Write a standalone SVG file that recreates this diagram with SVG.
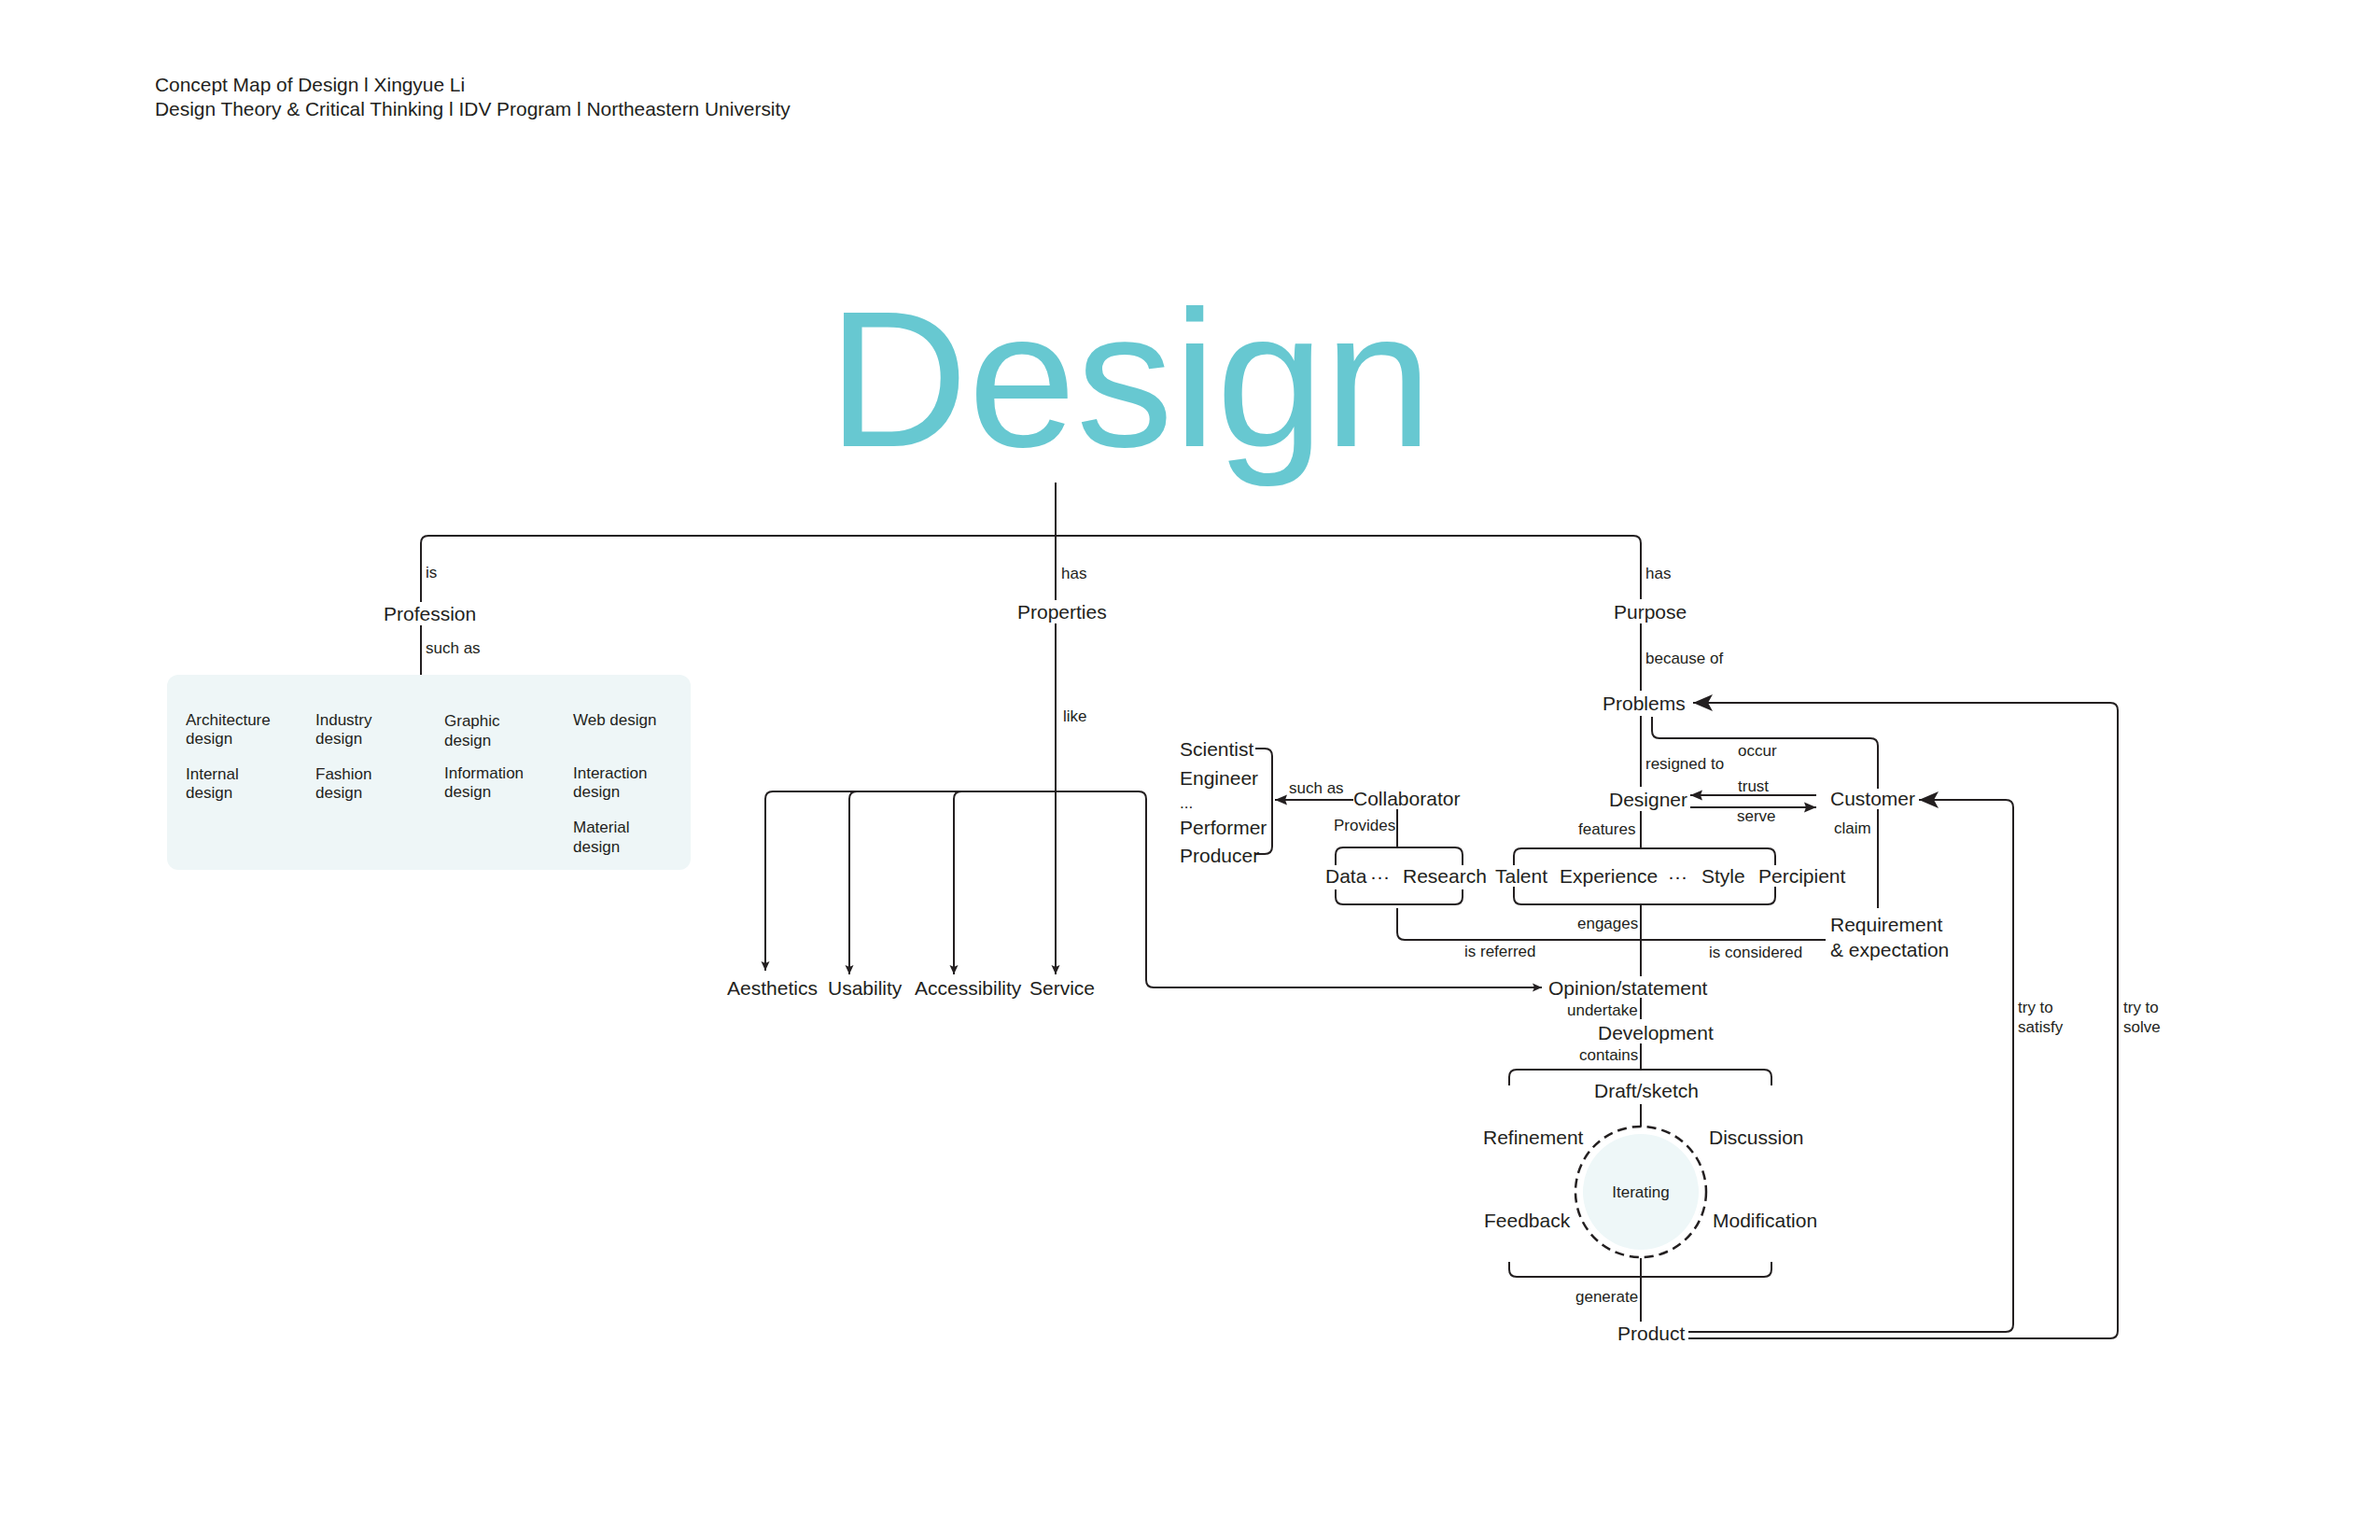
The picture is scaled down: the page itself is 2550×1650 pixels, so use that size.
<svg xmlns="http://www.w3.org/2000/svg" width="2550" height="1650" viewBox="0 0 2550 1650">
<defs>
<style>
text{font-family:"Liberation Sans",Arial,Helvetica,sans-serif;fill:#231F20}
.hd{font-size:20.9px}
.n{font-size:21px}
.e{font-size:17px}
.b{font-size:17px}
.ln{fill:none;stroke:#231F20;stroke-width:2}
.title{font-size:208px;fill:#67C8D1}
</style>
<marker id="big" viewBox="0 0 22 20" refX="21" refY="10" markerWidth="22" markerHeight="20" orient="auto" markerUnits="userSpaceOnUse"><path d="M21,10 L0,1 L5,10 L0,19 Z" fill="#231F20"/></marker>
<marker id="mid" viewBox="0 0 14 12" refX="13" refY="6" markerWidth="14" markerHeight="12" orient="auto" markerUnits="userSpaceOnUse"><path d="M13,6 L0,0.5 L2,6 L0,11.5 Z" fill="#231F20"/></marker>
<marker id="sm" viewBox="0 0 11 10" refX="10" refY="5" markerWidth="11" markerHeight="10" orient="auto" markerUnits="userSpaceOnUse"><path d="M10,5 L0,0.5 L2,5 L0,9.5 Z" fill="#231F20"/></marker>
</defs>
<rect width="2550" height="1650" fill="#FFFFFF"/>

<g id="header">
<text class="hd" x="166" y="98">Concept Map of Design l Xingyue Li</text>
<text class="hd" x="166" y="124">Design Theory &amp; Critical Thinking l IDV Program l Northeastern University</text>
</g>

<g id="connectors">
<path class="ln" d="M451,645 V582 Q451,574 459,574 H1750 Q1758,574 1758,582 V642"/>
<path class="ln" d="M1131,517 V643"/>
<path class="ln" d="M451,670 V723"/>
<path class="ln" d="M1131,668 V1044" marker-end="url(#sm)"/>
<path class="ln" d="M1131,848 H828 Q820,848 820,856 V1040" marker-end="url(#sm)"/>
<path class="ln" d="M918,848 Q910,848 910,856 V1044" marker-end="url(#sm)"/>
<path class="ln" d="M1030,848 Q1022,848 1022,856 V1044" marker-end="url(#sm)"/>
<path class="ln" d="M1131,848 H1220 Q1228,848 1228,856 V1050 Q1228,1058 1236,1058 H1652" marker-end="url(#sm)"/>
<path class="ln" d="M1758,668 V740"/>
<path class="ln" d="M1758,767 V843"/>
<path class="ln" d="M1758,869 V909"/>
<path class="ln" d="M1622,927 V917 Q1622,909 1630,909 H1894 Q1902,909 1902,917 V927"/>
<path class="ln" d="M1622,950 V961 Q1622,969 1630,969 H1894 Q1902,969 1902,961 V950"/>
<path class="ln" d="M1758,969 V1046"/>
<path class="ln" d="M1431,927 V916 Q1431,908 1439,908 H1559 Q1567,908 1567,916 V927"/>
<path class="ln" d="M1431,953 V961 Q1431,969 1439,969 H1559 Q1567,969 1567,961 V953"/>
<path class="ln" d="M1497,867 V908"/>
<path class="ln" d="M1497,973 V999 Q1497,1007 1505,1007 H1956"/>
<path class="ln" d="M1450,857 H1366" marker-end="url(#mid)"/>
<path class="ln" d="M1345,802 H1355 Q1363,802 1363,810 V907 Q1363,915 1355,915 H1345"/>
<path class="ln" d="M1770,768 V783 Q1770,791 1778,791 H2004 Q2012,791 2012,799 V845"/>
<path class="ln" d="M2012,867 V973"/>
<path class="ln" d="M1946,852 H1811" marker-end="url(#mid)"/>
<path class="ln" d="M1811,865 H1946" marker-end="url(#mid)"/>
<path class="ln" d="M1758,1069 V1092"/>
<path class="ln" d="M1758,1118 V1146"/>
<path class="ln" d="M1617,1163 V1154 Q1617,1146 1625,1146 H1890 Q1898,1146 1898,1154 V1163"/>
<path class="ln" d="M1617,1352 V1360 Q1617,1368 1625,1368 H1890 Q1898,1368 1898,1360 V1352"/>
<path class="ln" d="M1758,1183 V1207"/>
<path class="ln" d="M1758,1348 V1416"/>
<path class="ln" d="M1809,1427 H2149 Q2157,1427 2157,1419 V865 Q2157,857 2149,857 H2056" marker-end="url(#big)"/>
<path class="ln" d="M1809,1434 H2261 Q2269,1434 2269,1426 V761 Q2269,753 2261,753 H1814" marker-end="url(#big)"/>
</g>

<g id="edge-labels">
<text class="e" x="456" y="619">is</text>
<text class="e" x="456" y="700">such as</text>
<text class="e" x="1137" y="620">has</text>
<text class="e" x="1763" y="620">has</text>
<text class="e" x="1139" y="773">like</text>
<text class="e" x="1763" y="711">because of</text>
<text class="e" x="1763" y="824">resigned to</text>
<text class="e" x="1862" y="810">occur</text>
<text class="e" x="1862" y="848">trust</text>
<text class="e" x="1861" y="880">serve</text>
<text class="e" x="1965" y="893">claim</text>
<text class="e" x="1691" y="894">features</text>
<text class="e" x="1381" y="850">such as</text>
<text class="e" x="1429" y="890">Provides</text>
<text class="e" x="1690" y="995">engages</text>
<text class="e" x="1569" y="1025">is referred</text>
<text class="e" x="1831" y="1026">is considered</text>
<text class="e" x="1679" y="1088">undertake</text>
<text class="e" x="1692" y="1136">contains</text>
<text class="e" x="1688" y="1395">generate</text>
<text class="e" x="2162" y="1085">try to</text>
<text class="e" x="2162" y="1106">satisfy</text>
<text class="e" x="2275" y="1085">try to</text>
<text class="e" x="2275" y="1106">solve</text>
</g>

<g id="design"><text class="title" x="887" y="478">Design</text></g>
<g id="profession"><text class="n" x="411" y="665">Profession</text></g>
<g id="properties"><text class="n" x="1090" y="663">Properties</text></g>
<g id="purpose"><text class="n" x="1729" y="663">Purpose</text></g>

<g id="profession-list">
<rect x="179" y="723" width="561" height="209" rx="12" fill="#EEF6F7"/>
<text class="b" x="199" y="777">Architecture</text><text class="b" x="199" y="797">design</text>
<text class="b" x="338" y="777">Industry</text><text class="b" x="338" y="797">design</text>
<text class="b" x="476" y="778">Graphic</text><text class="b" x="476" y="799">design</text>
<text class="b" x="614" y="777">Web design</text>
<text class="b" x="199" y="835">Internal</text><text class="b" x="199" y="855">design</text>
<text class="b" x="338" y="835">Fashion</text><text class="b" x="338" y="855">design</text>
<text class="b" x="476" y="834">Information</text><text class="b" x="476" y="854">design</text>
<text class="b" x="614" y="834">Interaction</text><text class="b" x="614" y="854">design</text>
<text class="b" x="614" y="892">Material</text><text class="b" x="614" y="913">design</text>
</g>

<g id="aesthetics"><text class="n" x="779" y="1066">Aesthetics</text></g>
<g id="usability"><text class="n" x="887" y="1066">Usability</text></g>
<g id="accessibility"><text class="n" x="980" y="1066">Accessibility</text></g>
<g id="service"><text class="n" x="1103" y="1066">Service</text></g>

<g id="problems"><text class="n" x="1717" y="761">Problems</text></g>
<g id="designer"><text class="n" x="1724" y="864">Designer</text></g>
<g id="customer"><text class="n" x="1961" y="863">Customer</text></g>
<g id="collaborator"><text class="n" x="1450" y="863">Collaborator</text></g>
<g id="roles">
<text class="n" x="1264" y="810">Scientist</text>
<text class="n" x="1264" y="841">Engineer</text>
<text class="e" x="1264" y="866">...</text>
<text class="n" x="1264" y="894">Performer</text>
<text class="n" x="1264" y="924">Producer</text>
</g>
<g id="resources">
<text class="n" x="1420" y="946">Data</text>
<text class="n" x="1468" y="946">···</text>
<text class="n" x="1503" y="946">Research</text>
</g>
<g id="traits">
<text class="n" x="1602" y="946">Talent</text>
<text class="n" x="1671" y="946">Experience</text>
<text class="n" x="1787" y="946">···</text>
<text class="n" x="1823" y="946">Style</text>
<text class="n" x="1884" y="946">Percipient</text>
</g>
<g id="requirement">
<text class="n" x="1961" y="998">Requirement</text>
<text class="n" x="1961" y="1025">&amp; expectation</text>
</g>
<g id="opinion"><text class="n" x="1659" y="1066">Opinion/statement</text></g>
<g id="development"><text class="n" x="1712" y="1114">Development</text></g>
<g id="draft"><text class="n" x="1708" y="1176">Draft/sketch</text></g>
<g id="iterating">
<circle cx="1758" cy="1277" r="62" fill="#EEF7F8"/>
<circle cx="1758" cy="1277" r="70" fill="none" stroke="#231F20" stroke-width="2.5" stroke-dasharray="10 6"/>
<text class="e" x="1758" y="1283" text-anchor="middle">Iterating</text>
</g>
<g id="refinement"><text class="n" x="1589" y="1226">Refinement</text></g>
<g id="discussion"><text class="n" x="1831" y="1226">Discussion</text></g>
<g id="feedback"><text class="n" x="1590" y="1315">Feedback</text></g>
<g id="modification"><text class="n" x="1835" y="1315">Modification</text></g>
<g id="product"><text class="n" x="1733" y="1436">Product</text></g>
</svg>
